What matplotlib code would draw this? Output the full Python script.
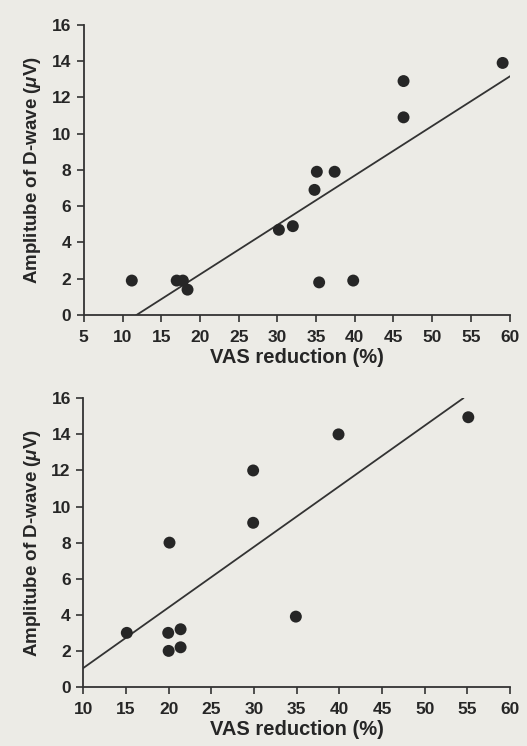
import matplotlib
matplotlib.use("Agg")
import matplotlib.pyplot as plt
import numpy as np

plt.rcParams['font.family'] = ['Liberation Sans', 'DejaVu Sans']
plt.rcParams['mathtext.fontset'] = 'custom'
plt.rcParams['mathtext.it'] = 'Liberation Sans:italic:bold'
plt.rcParams['mathtext.rm'] = 'Liberation Sans:bold'
plt.rcParams['mathtext.bf'] = 'Liberation Sans:bold'

# Top panel data
top_x = [59.1, 46.3, 46.3, 35.1, 37.4, 34.8, 30.2, 32.0, 11.2, 17.0, 17.8, 18.4, 35.4, 39.8]
top_y = [13.9, 12.9, 10.9, 7.9, 7.9, 6.9, 4.7, 4.9, 1.9, 1.9, 1.9, 1.4, 1.8, 1.9]
top_line_x = [11.8, 60.0]
top_line_y = [0.0, 13.15]
top_xticks = list(range(5, 61, 5))

# Bottom panel data
bot_x = [55.1, 39.9, 29.9, 29.9, 20.1, 15.1, 19.95, 21.4, 20.0, 21.4, 34.9]
bot_y = [14.95, 14.0, 12.0, 9.1, 8.0, 3.0, 3.0, 3.2, 2.0, 2.2, 3.9]
bot_line_x = [10.0, 54.5]
bot_line_y = [1.05, 16.0]
bot_xticks = list(range(10, 61, 5))

yticks = list(range(0, 17, 2))

bg = '#ecebe6'
ink = '#262626'

fig = plt.figure(figsize=(5.27, 7.46), dpi=100, facecolor=bg)

def panel(rect, xs, ys, lx, ly, xticks):
    ax = fig.add_axes(rect, facecolor=bg)
    ax.plot(lx, ly, color='#333333', lw=1.3, zorder=2)
    ax.scatter(xs, ys, s=74, color=ink, zorder=3, edgecolors='none')
    ax.set_xlim(xticks[0], xticks[-1])
    ax.set_ylim(0, 16)
    ax.set_xticks(xticks)
    ax.set_yticks(yticks)
    for s in ['top', 'right']:
        ax.spines[s].set_visible(False)
    for s in ['left', 'bottom']:
        ax.spines[s].set_linewidth(1.3)
        ax.spines[s].set_color('#333333')
    ax.tick_params(axis='both', direction='out', length=5, width=1.2,
                   colors='#333333', labelcolor=ink, labelsize=12.5)
    ax.tick_params(axis='x', pad=6)
    ax.tick_params(axis='y', pad=4)
    for lab in ax.get_xticklabels() + ax.get_yticklabels():
        lab.set_fontweight('bold')
    ax.set_xlabel('VAS reduction (%)', fontsize=14.5, color=ink, labelpad=2,
                  fontweight='bold')
    ax.set_ylabel(r'Amplitube of D-wave ($\mu$V)', fontsize=13.5, color=ink,
                  labelpad=6, fontweight='bold')
    return ax

panel([0.159, 0.5777, 0.808, 0.389], top_x, top_y, top_line_x, top_line_y, top_xticks)
panel([0.158, 0.0791, 0.810, 0.387], bot_x, bot_y, bot_line_x, bot_line_y, bot_xticks)

fig.savefig('out.png', dpi=100, facecolor=bg)
